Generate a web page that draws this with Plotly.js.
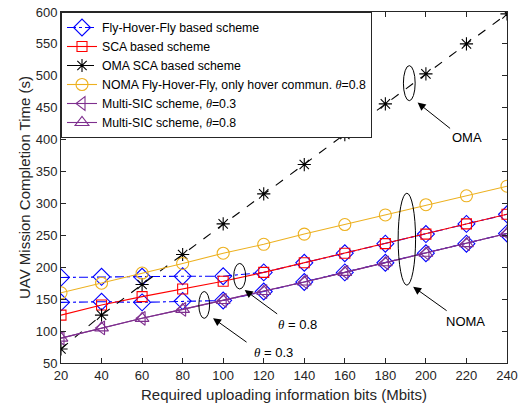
<!DOCTYPE html>
<html>
<head>
<meta charset="utf-8">
<script src="https://cdn.plot.ly/plotly-3.0.1.min.js"></script>
<style>html,body{margin:0;padding:0;background:#fff;} #chart{width:520px;height:407px;}</style>
</head>
<body>
<div id="chart"></div>
<script>
// ---- data ----
const bits = [20, 40, 60, 80, 100, 120, 140, 160, 180, 200, 220, 240];
const fhfHigh = [184, 185, 185, 186, 186, 192, 207, 222, 237, 252, 268, 283];
const fhfLow  = [145, 146, 145, 147, 148, 162, 177, 192, 207, 222, 237, 253];
const sca     = [125, 141, 154, 166, 178, 192, 207, 222, 237, 252, 268, 283];
const omaSca  = [72, 125, 173, 220, 268, 315, 361, 408, 456, 503, 550, 597];
const nomaFhf = [160, 175, 191, 206, 222, 236, 252, 267, 282, 298, 312, 327];
const msic03  = [89, 105, 120, 134, 148, 162, 177, 192, 207, 222, 237, 253];
const msic08  = [89, 105, 120, 134, 148, 162, 177, 192, 207, 222, 237, 253];
const xTicks = [20, 40, 60, 80, 100, 120, 140, 160, 180, 200, 220, 240];
const yTicks = [50, 100, 150, 200, 250, 300, 350, 400, 450, 500, 550, 600];
const names = [
  'Fly-Hover-Fly based scheme',
  'SCA based scheme',
  'OMA SCA based scheme',
  'NOMA Fly-Hover-Fly, only hover commun. <i style="font-family:\'Liberation Serif\'">θ</i>=0.8',
  'Multi-SIC scheme, <i style="font-family:\'Liberation Serif\'">θ</i>=0.3',
  'Multi-SIC scheme, <i style="font-family:\'Liberation Serif\'">θ</i>=0.8'
];

const BLUE = '#0000ff', RED = '#ff0000', BLACK = '#000000', ORANGE = '#EDB120', PURPLE = '#7E2F8E';

function tr(y, name, color, dash, symbol, size, show) {
  return {
    x: bits, y: y, name: name, type: 'scatter', mode: 'lines+markers',
    showlegend: show,
    line: {color: color, width: 1.1, dash: dash},
    marker: {symbol: symbol, size: size, color: color, line: {color: color, width: 1.1}}
  };
}

const traces = [
  tr(fhfHigh, names[0], BLUE, 'dashdot', 'diamond-open', 13, true),
  tr(fhfLow, names[0], BLUE, 'dashdot', 'diamond-open', 13, false),
  tr(sca, names[1], RED, 'solid', 'square-open', 10, true),
  tr(omaSca, names[2], BLACK, 'dash', 'asterisk-open', 11, true),
  tr(nomaFhf, names[3], ORANGE, 'solid', 'circle-open', 12, true),
  tr(msic03, names[4], PURPLE, 'solid', 'triangle-left-open', 12, true),
  tr(msic08, names[5], PURPLE, 'solid', 'triangle-up-open', 12, true)
];

const th = '<i style="font-family:\'Liberation Serif\'">θ</i>';
const ell = (x0, x1, y0, y1) => ({type: 'circle', xref: 'x', yref: 'y', x0: x0, x1: x1, y0: y0, y1: y1,
  line: {color: '#000', width: 1}});
const arrow = (x, y, ax, ay) => ({x: x, y: y, xref: 'x', yref: 'y', ax: ax, ay: ay, text: '',
  showarrow: true, arrowhead: 2, arrowsize: 1.6, arrowwidth: 1, arrowcolor: '#000', standoff: 0});
const label = (x, y, t) => ({x: x, y: y, xref: 'x', yref: 'y', text: t, showarrow: false,
  font: {family: 'Liberation Sans, Arial, sans-serif', size: 13, color: '#000'}});

const layout = {
  width: 520, height: 407,
  margin: {l: 61, r: 13, t: 12, b: 44},
  paper_bgcolor: '#fff', plot_bgcolor: '#fff',
  font: {family: 'Liberation Sans, Arial, sans-serif', size: 13, color: '#262626'},
  showlegend: true,
  legend: {x: 0, y: 1, xanchor: 'left', yanchor: 'top', bgcolor: '#fff', bordercolor: '#262626', borderwidth: 1,
    font: {size: 12.3, color: '#000'}, tracegroupgap: 0},
  xaxis: {range: [20, 240], tickvals: xTicks, ticktext: xTicks.map(String), ticks: 'inside', ticklen: 5,
    showline: true, mirror: 'ticks', linecolor: '#262626', linewidth: 1, tickcolor: '#262626', showgrid: false, zeroline: false,
    title: {text: 'Required uploading information bits (Mbits)', font: {size: 15, color: '#262626'}, standoff: 7}},
  yaxis: {range: [50, 600], tickvals: yTicks, ticktext: yTicks.map(String), ticks: 'inside', ticklen: 5,
    showline: true, mirror: 'ticks', linecolor: '#262626', linewidth: 1, tickcolor: '#262626', showgrid: false, zeroline: false,
    title: {text: 'UAV Mission Completion Time (s)', font: {size: 15, color: '#262626'}, standoff: 1}},
  shapes: [
    ell(188.9, 194.7, 461, 516),
    ell(186.3, 194.9, 172, 316),
    ell(105.2, 111.1, 166, 206),
    ell(88.0, 93.3, 120, 162)
  ],
  annotations: [
    arrow(195.9, 458, 34, 27),
    arrow(193.7, 169.5, 35, 25),
    arrow(110.6, 164.4, 34, 25),
    arrow(95.0, 120.2, 35, 25),
    label(220.1, 403, 'OMA'),
    label(219.3, 115, 'NOMA'),
    label(136.8, 110, th + ' = 0.8'),
    label(124.6, 67, th + ' = 0.3')
  ]
};

Plotly.newPlot('chart', traces, layout, {displayModeBar: false, staticPlot: true});
</script>
</body>
</html>
